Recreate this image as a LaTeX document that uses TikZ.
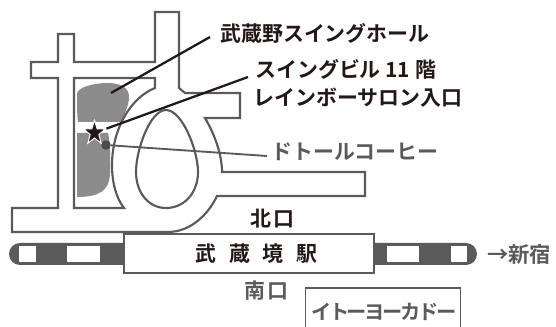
\documentclass[tikz,border=0pt]{standalone}
\usepackage{fontspec}
\setmainfont{Noto Sans CJK JP}[BoldFont={Noto Sans CJK JP Bold}]
\usetikzlibrary{shapes.geometric}
\definecolor{road}{HTML}{5A5A5A}
\definecolor{ink}{HTML}{231815}
\definecolor{blockc}{HTML}{8C8C8C}
\tikzset{
  roadline/.style={draw=road,line width=1.6pt,line join=miter},
  leader/.style={draw=ink,line width=1.7pt},
  leadgray/.style={draw=road,line width=1.4pt},
  lbl/.style={font=\bfseries\fontsize{15.7}{17}\selectfont,text=ink,inner sep=0pt,anchor=west},
  lblg/.style={font=\bfseries\fontsize{15.7}{17}\selectfont,text=road,inner sep=0pt,anchor=west},
  stripe/.style={fill=white,draw=none},
}
\newfontfamily\tightfont[LetterSpace=-12,BoldFont={Noto Sans CJK JP Bold}]{Noto Sans CJK JP}
\begin{document}
\begin{tikzpicture}[x=0.75pt,y=-0.75pt]
\useasboundingbox (0,0) rectangle (556,327);
\fill[white] (0,0) rectangle (556,327);
% buildings
\fill[blockc] (77,94) .. controls (77,87) and (95,83) .. (107,83) .. controls (120,83) and (129,87) .. (129,97) .. controls (129,105) and (125,112) .. (122,122) -- (78,122) .. controls (77,115) and (77,105) .. (77,94) -- cycle;
\fill[blockc] (77,133) -- (108,133) .. controls (111,145) and (110,165) .. (110,175) .. controls (109,190) and (100,197) .. (77,197) -- cycle;
% roads
\draw[roadline] (58,62) -- (58,34) -- (74,34) -- (74,62) -- (155,62) -- (155,12) -- (179,12) -- (179,88) -- (185,93) -- (240,93) -- (240,118) -- (205,118) .. controls (215,135) and (222,155) .. (222,172) -- (365,172) -- (365,196) -- (217,196) .. controls (208,215) and (190,232) .. (168,232) -- (12,232) -- (12,208) -- (58,208) -- (58,78) -- (31,78) -- (31,62) -- cycle;
\draw[roadline] (74,78) -- (155,78) -- (155,88) .. controls (130,98) and (112,130) .. (112,165) .. controls (112,182) and (116,198) .. (124,208) -- (74,208) -- cycle;
\draw[roadline] (166,110) .. controls (150,110) and (136,150) .. (136,172) .. controls (136,192) and (148,208) .. (166,208) .. controls (185,208) and (198,192) .. (198,172) .. controls (198,150) and (182,110) .. (166,110) -- cycle;
% railway
\fill[road] (20,243) -- (130,243) -- (130,265) -- (20,265) .. controls (14,265) and (9,260) .. (9,254) .. controls (9,248) and (14,243) .. (20,243) -- cycle;
\fill[road] (370,243) -- (466,243) .. controls (472,243) and (477,248) .. (477,254) .. controls (477,260) and (472,265) .. (466,265) -- (370,265) -- cycle;
\fill[stripe] (19,246) rectangle (36,262);
\fill[stripe] (67,246) rectangle (100,262);
\fill[stripe] (387,246) rectangle (419,262);
\fill[stripe] (451,246) rectangle (467,262);
\node[draw=road,line width=1.6pt,fill=white,minimum width=187.5pt,minimum height=29pt,inner sep=0pt] (st) at (249,253.5) {};
\node[font=\bfseries\fontsize{15.7}{17}\selectfont,text=ink,inner sep=0pt] (stn) at (256.5,254) {武\hspace{0.6em}蔵\hspace{0.6em}境\hspace{0.6em}駅};
% markers
\node[circle,fill=road!85!black,minimum size=7.2pt,inner sep=0pt] (dot) at (106,145) {};
\node[star,star points=5,star point ratio=2.5,fill=ink,draw=white,line width=0.7pt,minimum size=19pt,inner sep=0pt,xscale=0.9] (st1) at (94.5,133) {};
% labels
\node[lbl] (hall) at (220,33) {武蔵野スイングホール};
\node[lbl] (biru) at (255,69) {スイングビル 11 階};
\node[lbl] (rein) at (253,98) {レインボーサロン入口};
\node[lblg] (dot2) at (271,152) {ドトールコーヒー};
\node[lbl] (kita) at (250,219) {北\hspace{0.12em}口};
\node[lblg] (mina) at (244,291) {南\hspace{0.12em}口};
\node[lblg,font=\bfseries\fontsize{16}{18}\selectfont] (shin) at (487,254) {→新宿};
\node[draw=road,line width=0.9pt,fill=white,minimum width=116pt,minimum height=45pt,inner sep=0pt,anchor=north west] (ito) at (305,287.5) {};
\node[lblg,font=\tightfont\bfseries\fontsize{15.2}{17}\selectfont] (itoy) at (311,312) {イトーヨーカドー};
% leaders
\coordinate (h0) at (111,93);
\coordinate (h1) at (210,37);
\coordinate (b1) at (248,77);
\coordinate (d1) at (267,156);
\draw[leader] (h0) -- (h1);
\draw[leader] (st1) -- (b1);
\draw[leadgray] (dot) -- (d1);
\end{tikzpicture}
\end{document}
